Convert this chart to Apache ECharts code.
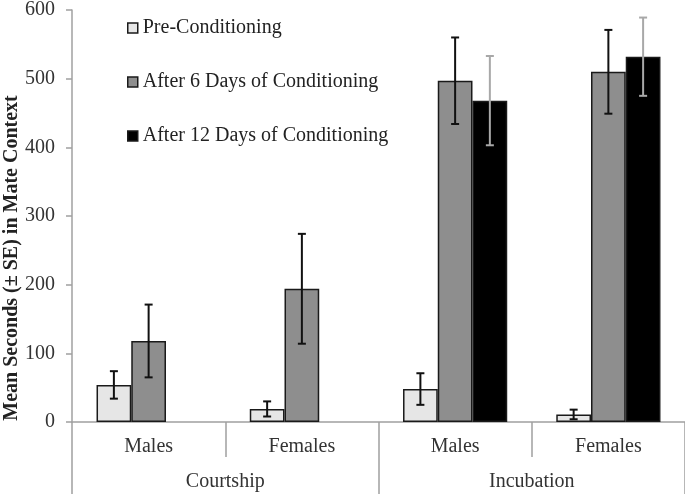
<!DOCTYPE html>
<html>
<head>
<meta charset="utf-8">
<script src="https://cdn.jsdelivr.net/npm/echarts@6/dist/echarts.min.js"></script>
<style>html,body{margin:0;padding:0;background:#fff;}#c{width:685px;height:495px;}</style>
</head>
<body>
<div id="c"></div>
<script>
const subCategories = ['Males', 'Females', 'Males', 'Females'];
const groups = ['Courtship', 'Incubation'];
const seriesNames = ['Pre-Conditioning', 'After 6 Days of Conditioning', 'After 12 Days of Conditioning'];
const preMean = [54, 19, 48, 11];
const preSE = [20, 11, 23, 7];
const day6Mean = [118, 194, 497, 510];
const day6SE = [53, 80, 63, 61];
const day12Mean = [null, null, 468, 532];
const day12SE = [null, null, 65, 57];
const yTicks = [0, 100, 200, 300, 400, 500, 600];

const FONT = '"Liberation Serif", "DejaVu Serif", serif';
const fills = ['#e6e6e6', '#8e8e8e', '#000000'];
const errColors = ['#111111', '#111111', '#a8a8a8'];
const means = [preMean, day6Mean, day12Mean];
const ses = [preSE, day6SE, day12SE];
const GAP = 0.32;

const chart = echarts.init(document.getElementById('c'), null, {renderer: 'canvas'});

const barSeries = seriesNames.map((n, k) => ({
  name: n,
  type: 'bar',
  xAxisIndex: 0,
  data: means[k].map(v => v == null ? '-' : v),
  barGap: '0%',
  barCategoryGap: (GAP * 100) + '%',
  itemStyle: {color: fills[k], borderColor: '#1a1a1a', borderWidth: 1.5},
  emphasis: {disabled: true},
  animation: false
}));

const errSeries = seriesNames.map((n, k) => ({
  name: n + ' SE',
  type: 'custom',
  xAxisIndex: 0,
  z: 10,
  animation: false,
  silent: true,
  encode: {x: 0, y: 1},
  data: means[k].map((v, i) => v == null ? null : [i, v, ses[k][i]]).filter(d => d),
  renderItem: function (params, api) {
    const i = api.value(0), v = api.value(1), se = api.value(2);
    const band = api.size([1, 0])[0];
    const bw = band * (1 - GAP) / 3;
    const c = api.coord([i, v]);
    const x = c[0] + (k - 1) * bw;
    const top = api.coord([i, v + se])[1];
    const bot = api.coord([i, Math.max(v - se, 0)])[1];
    const cap = 4;
    const st = {stroke: errColors[k], lineWidth: 2};
    return {
      type: 'group',
      children: [
        {type: 'line', shape: {x1: x, y1: top, x2: x, y2: bot}, style: st},
        {type: 'line', shape: {x1: x - cap, y1: top, x2: x + cap, y2: top}, style: st},
        {type: 'line', shape: {x1: x - cap, y1: bot, x2: x + cap, y2: bot}, style: st}
      ]
    };
  }
}));

chart.setOption({
  backgroundColor: '#ffffff',
  animation: false,
  grid: {left: 72, right: 0, top: 8, bottom: 73, containLabel: false},
  legend: {
    data: seriesNames,
    orient: 'vertical',
    left: 122,
    top: 13,
    itemWidth: 10,
    itemHeight: 10,
    itemGap: 34,
    icon: 'rect',
    selectedMode: false,
    itemStyle: {borderColor: '#1a1a1a', borderWidth: 1.5},
    textStyle: {fontFamily: FONT, fontSize: 20, color: '#222'}
  },
  xAxis: [
    {
      type: 'category',
      data: subCategories,
      position: 'bottom',
      axisLine: {show: true, lineStyle: {color: '#a0a0a0', width: 1.5}},
      axisTick: {show: true, alignWithLabel: false, length: 35, lineStyle: {color: '#a0a0a0', width: 1.5}},
      axisLabel: {fontFamily: FONT, fontSize: 20, color: '#333', margin: 15},
      splitLine: {show: false}
    },
    {
      type: 'category',
      data: groups,
      position: 'bottom',
      offset: 0,
      axisLine: {show: false},
      axisTick: {show: true, alignWithLabel: false, length: 72, lineStyle: {color: '#a0a0a0', width: 1.5}},
      axisLabel: {fontFamily: FONT, fontSize: 20, color: '#333', margin: 50},
      splitLine: {show: false}
    }
  ],
  yAxis: {
    type: 'value',
    min: yTicks[0],
    max: yTicks[yTicks.length - 1],
    interval: 100,
    axisLine: {show: true, lineStyle: {color: '#a0a0a0', width: 1.5}},
    axisTick: {show: true, length: 6, lineStyle: {color: '#a0a0a0', width: 1.5}},
    axisLabel: {fontFamily: FONT, fontSize: 20, color: '#333', margin: 17},
    splitLine: {show: false}
  },
  graphic: [{
    type: 'text',
    x: 12,
    y: 258,
    rotation: Math.PI / 2,
    style: {
      text: 'Mean Seconds (\u00B1 SE) in Mate Context',
      fontFamily: FONT,
      fontSize: 20,
      fontWeight: 'bold',
      fill: '#222',
      align: 'center',
      verticalAlign: 'middle'
    }
  }],
  series: barSeries.concat(errSeries)
});
</script>
</body>
</html>
